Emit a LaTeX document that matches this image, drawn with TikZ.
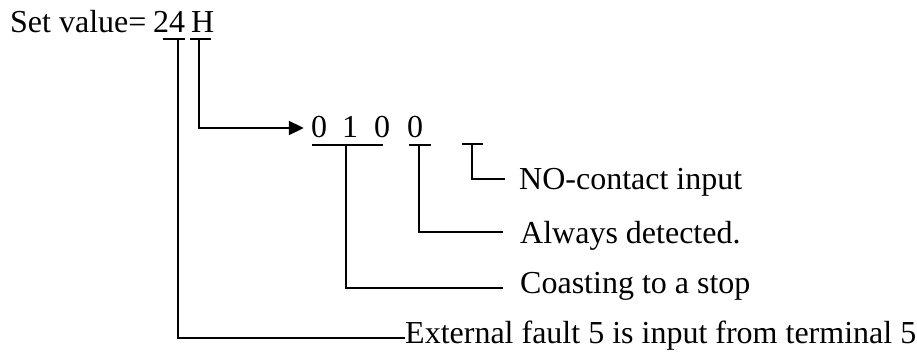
\documentclass[tikz,border=0pt]{standalone}
\usepackage{fontspec}
\setmainfont{Liberation Serif}
\usetikzlibrary{arrows.meta}
\begin{document}
\begin{tikzpicture}[x=1pt,y=-1pt,
  lbl/.style={inner sep=0pt,anchor=base west,font=\fontsize{32}{38}\selectfont},
  dig/.style={inner sep=0pt,anchor=base,font=\fontsize{32}{38}\selectfont},
  ln/.style={line width=2pt},
  arr/.style={line width=2pt,-{Triangle[length=15pt,width=14pt]}}]
\useasboundingbox (0,0) rectangle (917,359);
% texts
\node[lbl] (set) at (10,32) {Set value=};
\node[lbl] (v24) at (153,32) {24};
\node[lbl] (vH) at (191,32) {H};
\node[dig] (d1) at (319,137) {0};
\node[dig] (d2) at (350,137) {1};
\node[dig] (d3) at (382,137) {0};
\node[dig] (d4) at (415,137) {0};
\node[lbl] (no) at (519,189) {NO-contact input};
\node[lbl] (alw) at (520,243) {Always detected.};
\node[lbl] (coa) at (520,293) {Coasting to a stop};
\node[lbl] (ext) at (405,343) {External fault 5 is input from terminal 5};
% tick coordinates
\coordinate (a24L) at (163,39); \coordinate (a24R) at (185,39); \coordinate (a24) at (178,39);
\coordinate (aHL) at (190,39); \coordinate (aHR) at (211,39); \coordinate (aH) at (199,39);
\coordinate (bL) at (312,145); \coordinate (bR) at (383,145); \coordinate (b) at (346,145);
\coordinate (cL) at (409,145); \coordinate (cR) at (431,145); \coordinate (c) at (419,145);
\coordinate (eL) at (462,144); \coordinate (eR) at (483,144); \coordinate (e) at (472,144);
\coordinate (tip) at (d1.west |- 0,128);
\coordinate (extE) at (ext.west |- 0,338);
\coordinate (coaE) at (503,288);
\coordinate (alwE) at (503,232);
\coordinate (noE) at (505,179);
% bars
\draw[ln] (a24L) -- (a24R);
\draw[ln] (aHL) -- (aHR);
\draw[ln] (bL) -- (bR);
\draw[ln] (cL) -- (cR);
\draw[ln] (eL) -- (eR);
% connectors
\draw[ln] (a24) |- (extE);
\draw[arr] (aH) |- ([xshift=-7pt]tip);
\draw[ln] (b) |- (coaE);
\draw[ln] (c) |- (alwE);
\draw[ln] (e) |- (noE);
\end{tikzpicture}
\end{document}
